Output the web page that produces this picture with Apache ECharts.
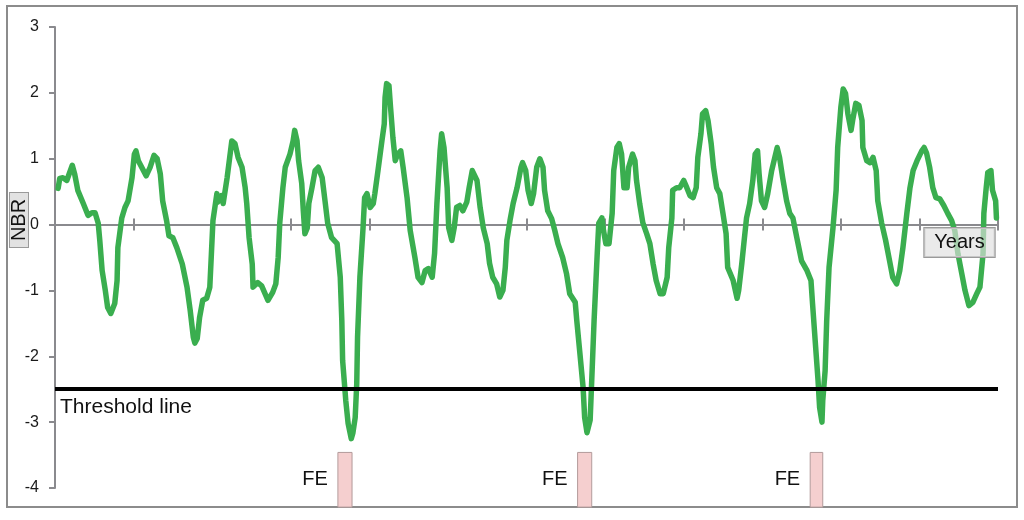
<!DOCTYPE html>
<html>
<head>
<meta charset="utf-8">
<script src="https://cdn.jsdelivr.net/npm/echarts@6/dist/echarts.min.js"></script>
<style>
  html, body { margin: 0; padding: 0; background: #fff; }
  #chart { width: 1024px; height: 520px; }
</style>
</head>
<body>
<div id="chart"></div>
<script>
// NBR curve (x in years from the first tick)
var years = [
  0.04, 0.06, 0.10, 0.15, 0.22, 0.25, 0.29, 0.36, 0.42, 0.47, 0.51, 0.55, 0.57, 0.60, 0.64, 0.67, 0.71, 0.76, 0.79, 0.80,
  0.85, 0.89, 0.93, 0.98, 1.01, 1.03, 1.06, 1.09, 1.16, 1.21, 1.26, 1.30, 1.34, 1.37, 1.42, 1.45, 1.50, 1.55, 1.62, 1.68,
  1.72, 1.76, 1.78, 1.81, 1.84, 1.88, 1.93, 1.97, 1.99, 2.01, 2.06, 2.07, 2.12, 2.14, 2.19, 2.25, 2.29, 2.33, 2.38, 2.42,
  2.44, 2.47, 2.51, 2.52, 2.58, 2.63, 2.71, 2.77, 2.81, 2.84, 2.86, 2.90, 2.93, 2.99, 3.03, 3.05, 3.08, 3.10, 3.14, 3.16,
  3.18, 3.21, 3.23, 3.27, 3.31, 3.35, 3.40, 3.44, 3.47, 3.52, 3.59, 3.63, 3.65, 3.66, 3.70, 3.73, 3.77, 3.79, 3.82, 3.84,
  3.85, 3.88, 3.92, 3.94, 3.97, 4.01, 4.05, 4.07, 4.11, 4.16, 4.19, 4.20, 4.22, 4.25, 4.27, 4.30, 4.33, 4.36, 4.40, 4.43,
  4.48, 4.52, 4.58, 4.62, 4.67, 4.71, 4.75, 4.80, 4.83, 4.86, 4.90, 4.92, 4.95, 4.99, 5.01, 5.05, 5.08, 5.11, 5.15, 5.19,
  5.24, 5.27, 5.31, 5.33, 5.37, 5.41, 5.45, 5.50, 5.53, 5.57, 5.62, 5.66, 5.70, 5.73, 5.75, 5.79, 5.83, 5.88, 5.93, 5.95,
  5.99, 6.02, 6.06, 6.09, 6.13, 6.17, 6.21, 6.23, 6.27, 6.32, 6.36, 6.40, 6.46, 6.51, 6.55, 6.62, 6.64, 6.68, 6.72, 6.74,
  6.77, 6.81, 6.83, 6.86, 6.90, 6.92, 6.96, 6.98, 7.01, 7.05, 7.09, 7.11, 7.15, 7.18, 7.21, 7.24, 7.28, 7.30, 7.35, 7.38,
  7.40, 7.44, 7.48, 7.53, 7.57, 7.61, 7.65, 7.70, 7.74, 7.79, 7.81, 7.85, 7.86, 7.91, 7.95, 8.00, 8.04, 8.08, 8.12, 8.16,
  8.18, 8.22, 8.24, 8.28, 8.31, 8.35, 8.38, 8.42, 8.46, 8.50, 8.54, 8.56, 8.63, 8.68, 8.70, 8.74, 8.77, 8.80, 8.84, 8.88,
  8.91, 8.94, 8.96, 8.99, 9.03, 9.07, 9.12, 9.16, 9.19, 9.22, 9.26, 9.31, 9.35, 9.39, 9.44, 9.50, 9.57, 9.62, 9.64, 9.68,
  9.71, 9.73, 9.76, 9.77, 9.80, 9.82, 9.85, 9.90, 9.94, 9.96, 10.00, 10.03, 10.06, 10.09, 10.13, 10.15, 10.19, 10.23, 10.27, 10.28,
  10.33, 10.37, 10.41, 10.45, 10.47, 10.52, 10.57, 10.62, 10.66, 10.71, 10.75, 10.79, 10.84, 10.88, 10.92, 10.97, 11.03, 11.06, 11.09, 11.13,
  11.17, 11.21, 11.26, 11.31, 11.36, 11.41, 11.45, 11.49, 11.54, 11.58, 11.63, 11.68, 11.73, 11.77, 11.81, 11.82, 11.85, 11.87, 11.91, 11.93,
  11.97, 11.98
];
var nbr = [
  0.55, 0.70, 0.71, 0.67, 0.90, 0.77, 0.52, 0.32, 0.14, 0.18, 0.18, 0.02, -0.24, -0.70, -1.00, -1.26, -1.35, -1.20, -0.85, -0.35,
  0.10, 0.26, 0.36, 0.71, 1.07, 1.12, 0.97, 0.90, 0.74, 0.87, 1.05, 1.00, 0.77, 0.36, 0.06, -0.17, -0.20, -0.35, -0.60, -0.95,
  -1.30, -1.71, -1.80, -1.73, -1.41, -1.15, -1.12, -0.95, -0.45, 0.06, 0.47, 0.34, 0.44, 0.32, 0.71, 1.27, 1.23, 1.02, 0.87, 0.56,
  0.32, -0.20, -0.60, -0.95, -0.88, -0.93, -1.15, -1.03, -0.90, -0.50, 0.02, 0.56, 0.87, 1.07, 1.27, 1.43, 1.27, 0.97, 0.62, 0.21,
  -0.14, -0.05, 0.32, 0.56, 0.82, 0.87, 0.71, 0.32, 0.02, -0.20, -0.29, -0.80, -1.46, -2.06, -2.67, -3.02, -3.25, -3.17, -2.93, -2.41,
  -1.71, -0.80, -0.05, 0.41, 0.47, 0.26, 0.32, 0.47, 0.82, 1.27, 1.53, 1.93, 2.14, 2.11, 1.78, 1.32, 0.97, 1.07, 1.12, 0.87,
  0.41, -0.09, -0.50, -0.80, -0.88, -0.70, -0.67, -0.80, -0.44, 0.32, 1.12, 1.38, 1.17, 0.56, -0.05, -0.24, -0.05, 0.26, 0.29, 0.21,
  0.34, 0.56, 0.82, 0.85, 0.67, 0.26, -0.05, -0.29, -0.59, -0.80, -0.90, -1.10, -1.00, -0.65, -0.24, 0.06, 0.32, 0.56, 0.87, 0.94,
  0.82, 0.52, 0.32, 0.47, 0.87, 1.00, 0.87, 0.52, 0.21, 0.09, -0.09, -0.29, -0.50, -0.75, -1.05, -1.18, -1.46, -1.96, -2.47, -2.93,
  -3.16, -2.97, -2.37, -1.46, -0.44, 0.02, 0.10, -0.09, -0.29, -0.29, 0.17, 0.82, 1.17, 1.23, 1.07, 0.56, 0.56, 0.87, 1.07, 0.97,
  0.67, 0.32, 0.03, -0.14, -0.29, -0.59, -0.85, -1.05, -1.05, -0.80, -0.35, 0.10, 0.52, 0.56, 0.56, 0.67, 0.56, 0.44, 0.41, 0.56,
  1.02, 1.38, 1.68, 1.73, 1.58, 1.23, 0.87, 0.56, 0.47, 0.17, -0.14, -0.65, -0.85, -1.12, -1.00, -0.59, -0.24, 0.10, 0.32, 0.67,
  1.07, 1.12, 0.77, 0.36, 0.26, 0.47, 0.82, 1.02, 1.17, 1.02, 0.71, 0.36, 0.17, 0.10, -0.20, -0.55, -0.70, -0.85, -1.20, -1.87,
  -2.37, -2.78, -3.00, -2.67, -2.22, -1.46, -0.65, -0.05, 0.52, 1.17, 1.78, 2.06, 1.99, 1.68, 1.43, 1.58, 1.84, 1.81, 1.58, 1.17,
  0.97, 0.94, 1.02, 0.82, 0.36, 0.02, -0.24, -0.55, -0.80, -0.90, -0.70, -0.35, 0.17, 0.56, 0.82, 0.97, 1.12, 1.17, 1.09, 0.87,
  0.56, 0.41, 0.39, 0.29, 0.17, 0.06, -0.09, -0.44, -0.75, -1.00, -1.23, -1.18, -1.05, -0.95, -0.44, 0.17, 0.56, 0.79, 0.82, 0.52,
  0.36, 0.10
];
var threshold = -2.5;

// fire events (FE) bars
var feStart = [3.60, 6.65, 9.61];
var feEnd = [3.78, 6.83, 9.77];
var feTop = -3.46;
var feBottom = -4.29;
var feLabels = ['FE', 'FE', 'FE'];

var lineData = years.map(function (x, i) { return [x, nbr[i]]; });
var feData = feStart.map(function (s, i) { return [s, feEnd[i], feTop, feBottom]; });

var font = '"Liberation Sans", Arial, sans-serif';
var axisGray = '#8a8a8e';

var myChart = echarts.init(document.getElementById('chart'));
var option = {
  animation: false,
  grid: { left: 55, right: 26, top: 27, bottom: 32 },
  xAxis: [
    {
      type: 'value', min: 0, max: 12, interval: 1, position: 'bottom',
      axisLine: { onZero: true, lineStyle: { color: axisGray, width: 2 } },
      axisTick: { show: true, length: 6, lineStyle: { color: axisGray, width: 2 } },
      axisLabel: { show: false },
      splitLine: { show: false }
    },
    {
      // second axis only for the ticks above the line
      type: 'value', min: 0, max: 12, interval: 1, position: 'bottom',
      axisLine: { show: false, onZero: true, onZeroAxisIndex: 1 },
      axisTick: { show: true, inside: true, length: 6, lineStyle: { color: axisGray, width: 2 } },
      axisLabel: { show: false },
      splitLine: { show: false }
    }
  ],
  yAxis: [
    {
      type: 'value', min: -4, max: 3, interval: 1, position: 'left',
      axisLine: { show: true, lineStyle: { color: axisGray, width: 2 } },
      axisTick: { show: true, length: 6, lineStyle: { color: axisGray, width: 2 } },
      axisLabel: { color: '#1a1a1a', fontSize: 16, fontFamily: font, margin: 16 },
      splitLine: { show: false }
    },
    {
      type: 'value', min: -4, max: 3, interval: 1, position: 'right', show: false
    }
  ],
  series: [
    {
      type: 'line',
      data: [],
      z: 1,
      silent: true,
      markLine: {
        silent: true,
        symbol: 'none',
        lineStyle: { color: '#000', width: 4, type: 'solid' },
        label: {
          show: true, position: 'insideStartBottom', formatter: 'Threshold line',
          color: '#111', fontSize: 21, fontFamily: font, distance: [5, 7]
        },
        emphasis: { disabled: true },
        data: [{ yAxis: threshold }]
      }
    },
    {
      type: 'custom',
      data: feData,
      z: 2,
      silent: true,
      renderItem: function (params, api) {
        var p0 = api.coord([api.value(0), api.value(2)]);
        var p1 = api.coord([api.value(1), api.value(3)]);
        var midY = (p0[1] + p1[1]) / 2;
        return {
          type: 'group',
          children: [
            {
              type: 'rect',
              shape: { x: p0[0], y: p0[1], width: p1[0] - p0[0], height: p1[1] - p0[1] },
              style: { fill: '#f5cfcf', stroke: '#b39b9b', lineWidth: 1 }
            },
            {
              type: 'text',
              style: {
                text: feLabels[params.dataIndex], x: p0[0] - 10, y: midY,
                align: 'right', verticalAlign: 'middle', fill: '#111', font: '20px ' + font
              }
            }
          ]
        };
      }
    },
    {
      type: 'line',
      data: lineData,
      z: 3,
      symbol: 'none',
      showSymbol: false,
      silent: true,
      lineStyle: { color: '#3aae4f', width: 5.5, join: 'round', cap: 'round' }
    }
  ],
  graphic: [
    {
      type: 'rect', silent: true, z: 0,
      shape: { x: 7, y: 6, width: 1010, height: 501 },
      style: { fill: 'none', stroke: '#8c8c8c', lineWidth: 2 }
    },
    {
      type: 'text', silent: true, z: 100,
      x: 19, y: 220, rotation: Math.PI / 2,
      style: {
        text: 'NBR', font: '20px ' + font, fill: '#111', align: 'center', verticalAlign: 'middle',
        backgroundColor: '#e2e2e2', borderColor: '#9a9a9a', borderWidth: 1, padding: [0, 6], lineHeight: 18
      }
    },
    {
      type: 'text', silent: true, z: 100,
      x: 959.5, y: 242.5,
      style: {
        text: 'Years', font: '20px ' + font, fill: '#111', align: 'center', verticalAlign: 'middle',
        backgroundColor: 'rgba(222,222,222,0.65)', borderColor: '#9a9a9a', borderWidth: 1, padding: [3, 10], lineHeight: 23
      }
    }
  ]
};
myChart.setOption(option);
window.addEventListener('resize', function () {
  myChart.resize();
});
</script>
</body>
</html>
